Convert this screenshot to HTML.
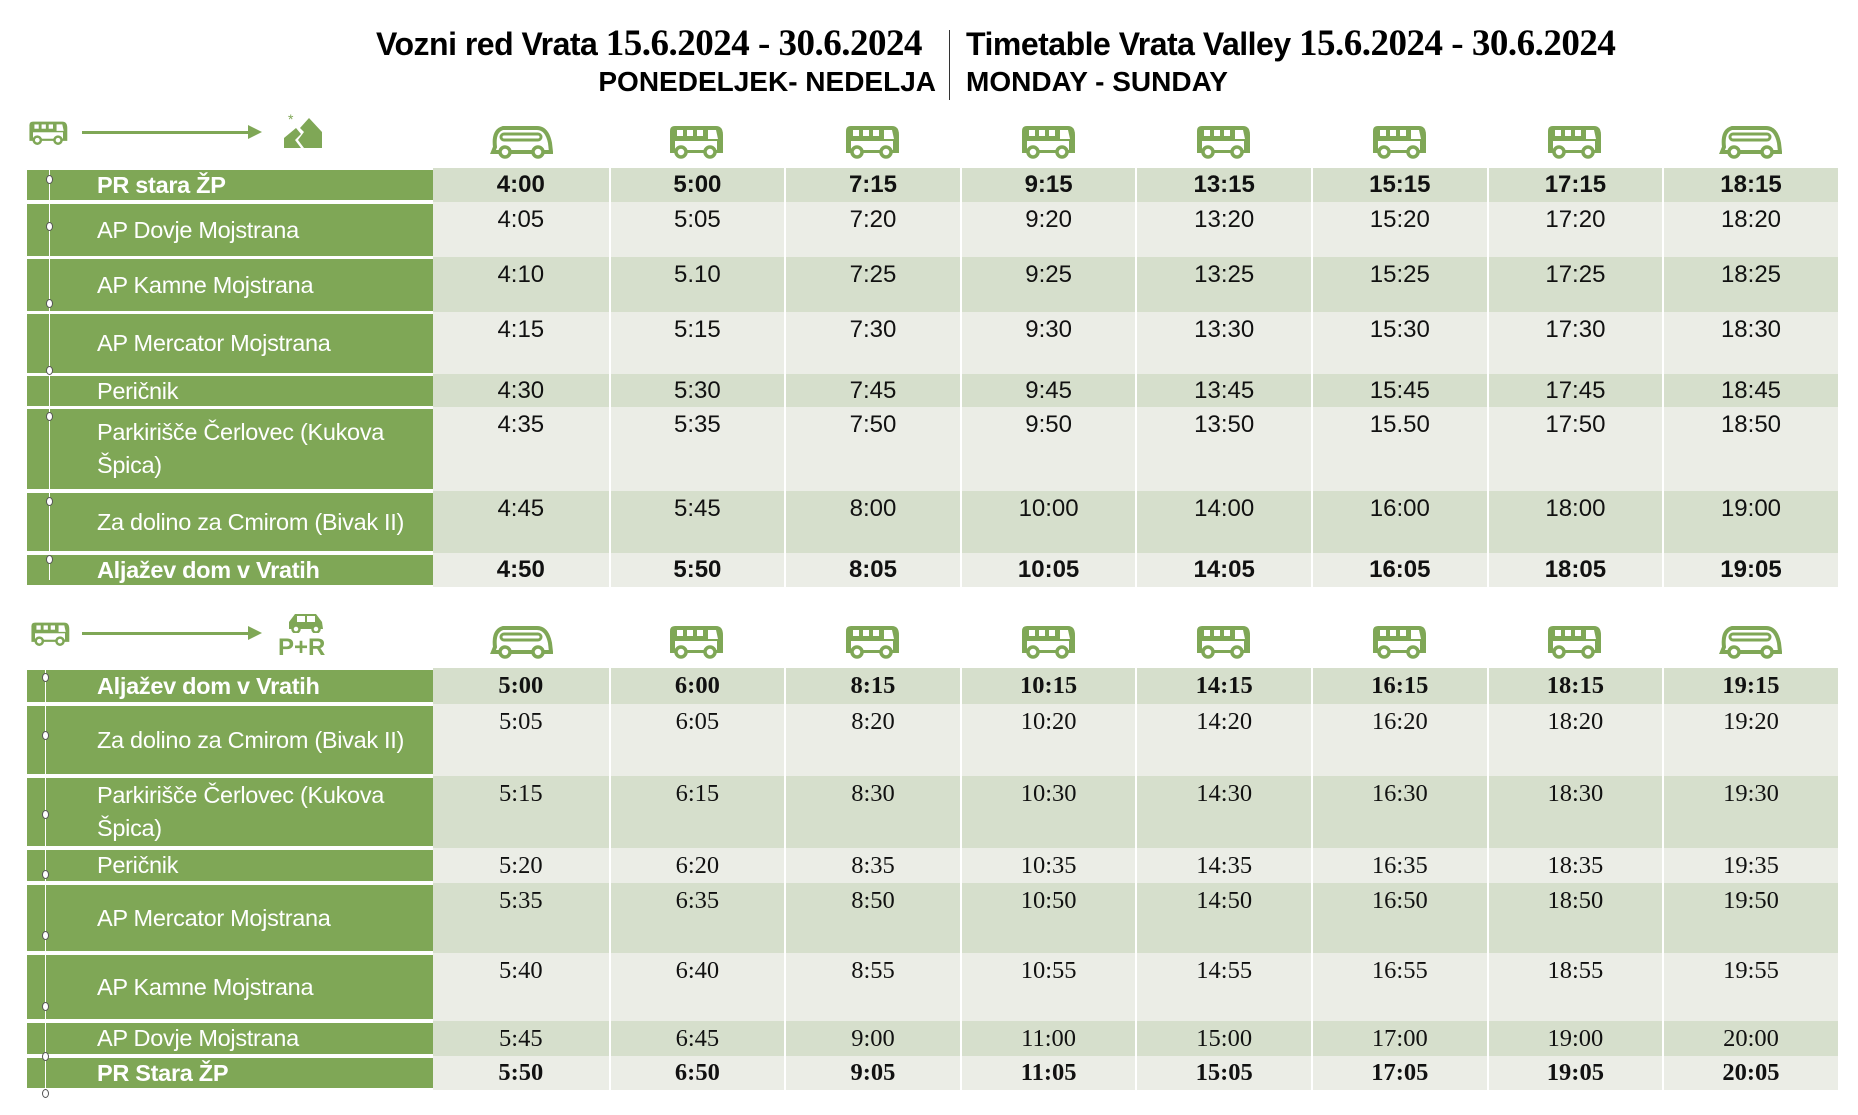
<!DOCTYPE html>
<html><head><meta charset="utf-8"><style>
*{margin:0;padding:0;box-sizing:border-box}
body{width:1858px;height:1115px;background:#fff;position:relative;overflow:hidden;font-family:"Liberation Sans",sans-serif}
.a{position:absolute}
.lab{position:absolute;left:0;width:406px;background:#7fa756;color:#fff;font-size:23.5px;display:flex;align-items:center;padding-left:70px;padding-right:20px;line-height:33px;letter-spacing:-0.3px}
.c{position:absolute;width:175.6px;text-align:center;font-size:24px;color:#111;line-height:26px}
.d{background:#d6dfcc}.l{background:#ebede6}
.b{font-weight:bold}
.vl{position:absolute;width:1px;background:#fff}
.dot{position:absolute;width:7px;height:9px;border:1.5px solid #555;border-radius:50%;background:#fff}
</style></head><body>
<svg width="0" height="0" style="position:absolute">
<symbol id="coach" viewBox="0 0 64 34"><path d="M6 22 Q4 6 14 3 L48 3 Q58 3 61 18 L62 27 L4 27 Z" fill="none" stroke="#7fa756" stroke-width="4"/><rect x="12" y="9" width="40" height="6" rx="3" fill="none" stroke="#7fa756" stroke-width="3"/><circle cx="16" cy="27" r="5" fill="#fff" stroke="#7fa756" stroke-width="3.5"/><circle cx="49" cy="27" r="5" fill="#fff" stroke="#7fa756" stroke-width="3.5"/></symbol>
<symbol id="bus" viewBox="0 0 56 34"><path d="M2 6 Q2 1 7 1 L48 1 Q55 1 55 10 L55 28 L2 28 Z" fill="#7fa756"/><rect x="9" y="5" width="6" height="6" fill="#fff"/><rect x="19" y="5" width="6" height="6" fill="#fff"/><rect x="29" y="5" width="6" height="6" fill="#fff"/><path d="M40 5 L48 5 L50 14 L40 14Z" fill="#fff"/><rect x="7" y="16" width="42" height="9" fill="#fff"/><circle cx="13" cy="27" r="5" fill="#fff" stroke="#7fa756" stroke-width="3.5"/><circle cx="42" cy="27" r="5" fill="#fff" stroke="#7fa756" stroke-width="3.5"/></symbol>
</svg>

<div class="a" style="left:376px;top:22px;font-size:32px;font-weight:bold;letter-spacing:-0.5px;white-space:nowrap">Vozni red Vrata <span style="font-family:'Liberation Serif',serif;font-size:37px">15.6.2024 - 30.6.2024</span></div>
<div class="a" style="left:578px;top:66px;width:358px;text-align:right;font-size:28px;font-weight:bold;white-space:nowrap">PONEDELJEK- NEDELJA</div>
<div class="a" style="left:949px;top:30px;width:1px;height:70px;background:#333"></div>
<div class="a" style="left:966px;top:22px;font-size:32px;font-weight:bold;letter-spacing:-0.5px;white-space:nowrap">Timetable Vrata Valley <span style="font-family:'Liberation Serif',serif;font-size:37px">15.6.2024 - 30.6.2024</span></div>
<div class="a" style="left:966px;top:66px;font-size:28px;font-weight:bold;white-space:nowrap">MONDAY - SUNDAY</div>

<svg class="a" style="left:28px;top:119px" width="40" height="28" viewBox="0 0 56 34"><use href="#bus"/></svg>
<div class="a" style="left:82px;top:131px;width:170px;height:3px;background:#7fa756"></div>
<div class="a" style="left:248px;top:125px;width:0;height:0;border-left:14px solid #7fa756;border-top:7px solid transparent;border-bottom:7px solid transparent"></div>
<svg class="a" style="left:284px;top:114px" width="40" height="36" viewBox="0 0 40 36"><text x="4" y="10" fill="#7fa756" font-size="14" font-family="Liberation Sans">*</text><path d="M0 34 L0 24 L12 14 L17 20 L11 26 L17 34Z M20 34 L14 26 L20 18 L16 14 L25 4 L38 18 L38 34Z" fill="#7fa756"/></svg>

<svg class="a" style="left:30px;top:620px" width="40" height="28" viewBox="0 0 56 34"><use href="#bus"/></svg>
<div class="a" style="left:82px;top:632px;width:170px;height:3px;background:#7fa756"></div>
<div class="a" style="left:248px;top:626px;width:0;height:0;border-left:14px solid #7fa756;border-top:7px solid transparent;border-bottom:7px solid transparent"></div>
<svg class="a" style="left:286px;top:611px" width="40" height="22" viewBox="0 0 40 22"><path d="M3 18 L3 11 L9 3 L30 3 L36 11 L37 18Z" fill="#7fa756"/><rect x="11" y="5" width="8" height="6" fill="#fff"/><rect x="21" y="5" width="8" height="6" fill="#fff"/><circle cx="10" cy="18" r="3.5" fill="#fff" stroke="#7fa756" stroke-width="2.5"/><circle cx="30" cy="18" r="3.5" fill="#fff" stroke="#7fa756" stroke-width="2.5"/></svg>
<div class="a" style="left:278px;top:634px;font-size:24px;font-weight:bold;color:#7fa756">P+R</div>

<div id="icons"></div>
<div id="t"></div>
<script>
(function(){
var X0=433,W=175.6;
var h='';
[125,625].forEach(function(y){for(var i=0;i<8;i++){var cx=X0+W*(i+.5);var co=(i==0||i==7);
h+='<svg class="a" style="left:'+(cx-(co?32:28))+'px;top:'+y+'px" width="'+(co?64:56)+'" height="34" viewBox="0 0 '+(co?64:56)+' 34"><use href="#'+(co?'coach':'bus')+'"/></svg>';}});
document.getElementById('icons').innerHTML=h;
var rowsTop=[
["PR stara ŽP",170,200,["4:00","5:00","7:15","9:15","13:15","15:15","17:15","18:15"],1],
["AP Dovje Mojstrana",204,256,["4:05","5:05","7:20","9:20","13:20","15:20","17:20","18:20"]],
["AP Kamne Mojstrana",259,311,["4:10","5.10","7:25","9:25","13:25","15:25","17:25","18:25"]],
["AP Mercator Mojstrana",314,373,["4:15","5:15","7:30","9:30","13:30","15:30","17:30","18:30"]],
["Peričnik",376,406,["4:30","5:30","7:45","9:45","13:45","15:45","17:45","18:45"]],
["Parkirišče Čerlovec (Kukova Špica)",409,489,["4:35","5:35","7:50","9:50","13:50","15.50","17:50","18:50"]],
["Za dolino za Cmirom (Bivak II)",493,551,["4:45","5:45","8:00","10:00","14:00","16:00","18:00","19:00"]],
["Aljažev dom v Vratih",555,585,["4:50","5:50","8:05","10:05","14:05","16:05","18:05","19:05"],1]];
var rowsBot=[
["Aljažev dom v Vratih",670,702,["5:00","6:00","8:15","10:15","14:15","16:15","18:15","19:15"],1],
["Za dolino za Cmirom (Bivak II)",706,774,["5:05","6:05","8:20","10:20","14:20","16:20","18:20","19:20"]],
["Parkirišče Čerlovec (Kukova Špica)",778,846,["5:15","6:15","8:30","10:30","14:30","16:30","18:30","19:30"]],
["Peričnik",850,881,["5:20","6:20","8:35","10:35","14:35","16:35","18:35","19:35"]],
["AP Mercator Mojstrana",885,951,["5:35","6:35","8:50","10:50","14:50","16:50","18:50","19:50"]],
["AP Kamne Mojstrana",955,1019,["5:40","6:40","8:55","10:55","14:55","16:55","18:55","19:55"]],
["AP Dovje Mojstrana",1023,1054,["5:45","6:45","9:00","11:00","15:00","17:00","19:00","20:00"]],
["PR Stara ŽP",1058,1088,["5:50","6:50","9:05","11:05","15:05","17:05","19:05","20:05"],1]];
function build(rows,serif){var s='';rows.forEach(function(r,k){
var y0=r[1],y1=r[2];var ct=y0-2;var cb=k==rows.length-1?y1+2:rows[k+1][1]-2;
var cls=(k%2==0)?'d':'l';var short=(y1-y0)<40;
for(var i=0;i<8;i++){s+='<div class="c '+cls+(r[4]?' b':'')+'" style="left:'+(X0+W*i+(i?2:0))+'px;top:'+ct+'px;width:'+(W-(i?2:0))+'px;height:'+(cb-ct)+'px;padding-top:'+(short?((cb-ct-26)/2):5)+'px;'+(serif?'font-family:\'Liberation Serif\',serif;font-size:24.5px;':'')+'">'+r[3][i]+'</div>';}
s+='<div class="lab'+(r[4]?' b':'')+'" style="left:27px;top:'+y0+'px;height:'+(y1-y0)+'px">'+r[0]+'</div>';
});return s;}
var s=build(rowsTop,0)+build(rowsBot,1);
s+='<div class="vl" style="left:49px;top:170px;height:410px"></div>';
s+='<div class="vl" style="left:45px;top:670px;height:425px"></div>';
[175,222,299,366,412,497,555].forEach(function(y){s+='<div class="dot" style="left:46px;top:'+y+'px"></div>'});
[673,731,810,870,931,1002,1052,1089].forEach(function(y){s+='<div class="dot" style="left:42px;top:'+y+'px"></div>'});
document.getElementById('t').innerHTML=s;
})();
</script>
</body></html>
